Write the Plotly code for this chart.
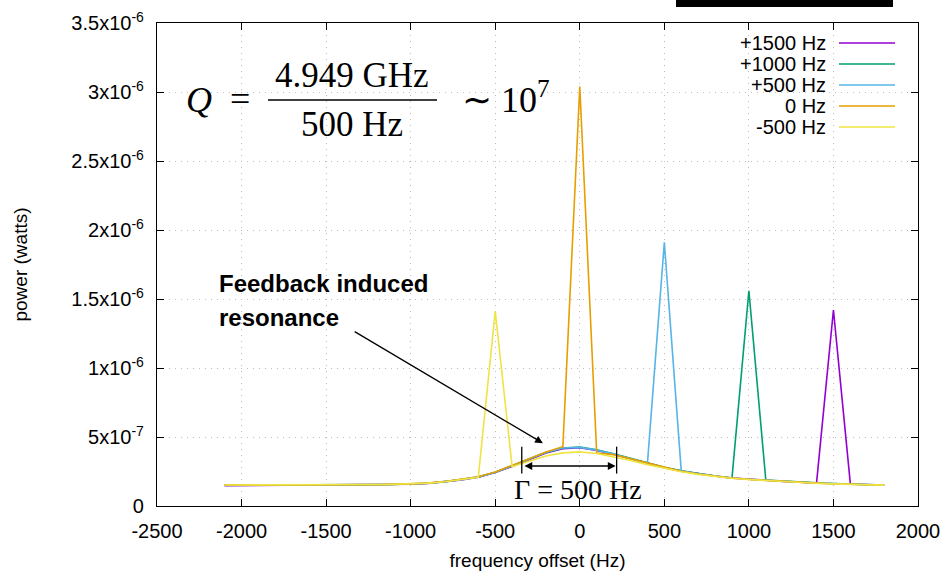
import plotly.graph_objects as go

# ---------------- data ----------------
freq_hz = [-2100, -2000, -1900, -1800, -1700, -1600, -1500, -1400, -1300, -1200,
           -1100, -1000, -900, -800, -700, -600, -500, -400, -300, -200,
           -100, 0, 100, 200, 300, 400, 500, 600, 700, 800,
           900, 1000, 1100, 1200, 1300, 1400, 1500, 1600, 1700, 1800]

# power in units of 1e-7 W
p_plus1500 = [1.48, 1.49, 1.48, 1.49, 1.50, 1.50, 1.50, 1.51, 1.52, 1.53,
              1.55, 1.58, 1.64, 1.74, 1.89, 2.08, 2.42, 2.87, 3.36, 3.84,
              4.15, 4.22, 4.02, 3.75, 3.42, 3.08, 2.78, 2.53, 2.33, 2.17,
              2.03, 1.93, 1.85, 1.78, 1.72, 1.66, 14.2, 1.60, 1.56, 1.52]
p_plus1000 = [1.50, 1.50, 1.49, 1.50, 1.50, 1.51, 1.51, 1.52, 1.53, 1.54,
              1.56, 1.59, 1.65, 1.75, 1.90, 2.10, 2.44, 2.90, 3.40, 3.88,
              4.20, 4.28, 4.08, 3.79, 3.45, 3.11, 2.80, 2.55, 2.35, 2.18,
              2.03, 15.6, 1.88, 1.80, 1.73, 1.68, 1.63, 1.58, 1.54, 1.50]
p_plus500 = [1.49, 1.50, 1.50, 1.49, 1.50, 1.51, 1.51, 1.52, 1.52, 1.54,
             1.56, 1.59, 1.65, 1.76, 1.91, 2.11, 2.45, 2.91, 3.41, 3.89,
             4.20, 4.25, 4.05, 3.77, 3.43, 3.08, 19.1, 2.55, 2.33, 2.17,
             2.03, 1.94, 1.86, 1.79, 1.73, 1.67, 1.62, 1.58, 1.54, 1.51]
p_zero = [1.51, 1.51, 1.50, 1.50, 1.51, 1.51, 1.52, 1.52, 1.53, 1.55,
          1.57, 1.60, 1.66, 1.77, 1.92, 2.12, 2.46, 2.92, 3.43, 3.92,
          4.30, 30.4, 3.84, 3.72, 3.42, 3.07, 2.77, 2.52, 2.32, 2.16,
          2.02, 1.93, 1.85, 1.78, 1.72, 1.66, 1.61, 1.57, 1.53, 1.50]
p_minus500 = [1.52, 1.52, 1.51, 1.51, 1.52, 1.52, 1.53, 1.53, 1.54, 1.56,
              1.58, 1.61, 1.66, 1.76, 1.90, 2.08, 14.1, 2.85, 3.25, 3.62,
              3.85, 3.92, 3.80, 3.56, 3.30, 3.00, 2.72, 2.48, 2.29, 2.14,
              2.01, 1.92, 1.84, 1.77, 1.71, 1.65, 1.60, 1.56, 1.53, 1.51]
UNIT = 1e-7

series_names = ["+1500 Hz", "+1000 Hz", "+500 Hz", "0 Hz", "-500 Hz"]
series_values = [p_plus1500, p_plus1000, p_plus500, p_zero, p_minus500]
series_colors = ["#9400d3", "#009e73", "#56b4e9", "#e69f00", "#f0e442"]

x_ticks = [-2500, -2000, -1500, -1000, -500, 0, 500, 1000, 1500, 2000]
x_ticktext = ["-2500", "-2000", "-1500", "-1000", "-500", "0", "500", "1000", "1500", "2000"]
y_ticks = [0, 0.5e-6, 1e-6, 1.5e-6, 2e-6, 2.5e-6, 3e-6, 3.5e-6]
y_ticktext = ["0", "5x10<sup>-7</sup>", "1x10<sup>-6</sup>", "1.5x10<sup>-6</sup>",
              "2x10<sup>-6</sup>", "2.5x10<sup>-6</sup>", "3x10<sup>-6</sup>", "3.5x10<sup>-6</sup>"]

# ---------------- figure ----------------
W, H = 949, 571
ML, MR, MT, MB = 157, 31, 23, 65
PW, PH = W - ML - MR, H - MT - MB


def px(xp):
    return (xp - ML) / PW


def py(yp):
    return (H - MB - yp) / PH


SANS = "Liberation Sans, Arial, sans-serif"
SERIF = "Liberation Serif, Times New Roman, serif"

fig = go.Figure()
for name, vals, col in zip(series_names, series_values, series_colors):
    fig.add_trace(go.Scatter(
        x=freq_hz, y=[v * UNIT for v in vals], mode="lines", name=name,
        line=dict(color=col, width=1.6), showlegend=False))

shapes = []
annotations = []


def note(xp, yp, text, size, family, xanchor="center", **kw):
    annotations.append(dict(xref="paper", yref="paper", x=px(xp), y=py(yp), text=text,
                            showarrow=False, xanchor=xanchor, yanchor="middle",
                            font=dict(family=family, size=size, color="black"), **kw))


# legend background (hides grid) and manual legend
shapes.append(dict(type="rect", xref="paper", yref="paper", layer="between",
                   x0=px(730), x1=px(908), y0=py(136), y1=py(30),
                   fillcolor="white", line=dict(width=0)))
legend_rows = [43, 64, 85, 106, 127]
for name, col, yr in zip(series_names, series_colors, legend_rows):
    note(828, yr, name, 20, SANS, xanchor="right")
    shapes.append(dict(type="line", xref="paper", yref="paper",
                       x0=px(839), x1=px(895), y0=py(yr), y1=py(yr),
                       line=dict(color=col, width=1.6)))

# black bar at top
shapes.append(dict(type="rect", xref="paper", yref="paper",
                   x0=px(676), x1=px(893), y0=py(7), y1=py(0),
                   fillcolor="black", line=dict(width=0)))

# Q formula
note(199, 100, "<i>Q</i>", 36, SERIF)
note(240, 99, "=", 36, SERIF)
note(352, 76, "4.949 GHz", 35, SERIF)
note(352, 124, "500 Hz", 35, SERIF)
note(460, 97, "∼ 10<sup>7</sup>", 36, SERIF, xanchor="left")
shapes.append(dict(type="line", xref="paper", yref="paper",
                   x0=px(268), x1=px(437), y0=py(100), y1=py(100),
                   line=dict(color="black", width=1.3)))

# Feedback annotation
note(217, 283, "<b>Feedback induced</b>", 24, SANS, xanchor="left")
note(217, 317, "<b>resonance</b>", 24, SANS, xanchor="left")
annotations.append(dict(x=-218, y=4.55e-7, ax=-1340, ay=1.27e-6, xref="x", yref="y",
                        axref="x", ayref="y", text="", showarrow=True, arrowhead=2,
                        arrowsize=1.2, arrowwidth=1.3, arrowcolor="black", standoff=0))
# Gamma width marker
annotations.append(dict(x=212, y=2.9e-7, ax=-336, ay=2.9e-7, xref="x", yref="y",
                        axref="x", ayref="y", text="", showarrow=True, arrowhead=2,
                        startarrowhead=2, arrowside="end+start", arrowsize=1.2,
                        arrowwidth=1.3, arrowcolor="black", standoff=0, startstandoff=0))
note(578, 489, "Γ = 500 Hz", 28, SERIF)
for xb in [-343, 218]:
    shapes.append(dict(type="line", xref="x", yref="y", x0=xb, x1=xb,
                       y0=2.35e-7, y1=4.3e-7, line=dict(color="black", width=1.3)))

axis_common = dict(showline=True, linecolor="black", linewidth=1.3, mirror="ticks",
                   ticks="inside", ticklen=7, tickcolor="black", tickwidth=1.2,
                   showgrid=True, gridcolor="#bdbdbd", griddash="1px,5px", gridwidth=1,
                   zeroline=False, tickfont=dict(family=SANS, size=20, color="black"))

fig.update_layout(
    width=W, height=H,
    margin=dict(l=ML, r=MR, t=MT, b=MB, autoexpand=False),
    paper_bgcolor="white", plot_bgcolor="white",
    showlegend=False,
    xaxis=dict(range=[-2500, 2000], tickvals=x_ticks, ticktext=x_ticktext,
               ticklabelstandoff=7,
               title=dict(text="frequency offset (Hz)", standoff=14,
                          font=dict(family=SANS, size=19, color="black")),
               **axis_common),
    yaxis=dict(range=[0, 3.5e-6], tickvals=y_ticks, ticktext=y_ticktext,
               ticklabelstandoff=8,
               title=dict(text="power (watts)", standoff=38,
                          font=dict(family=SANS, size=19, color="black")),
               **axis_common),
    shapes=shapes, annotations=annotations,
)

fig.write_html("out.html", config={"displayModeBar": False},
               post_script="document.body.style.margin='0px';document.body.style.overflow='hidden';")
